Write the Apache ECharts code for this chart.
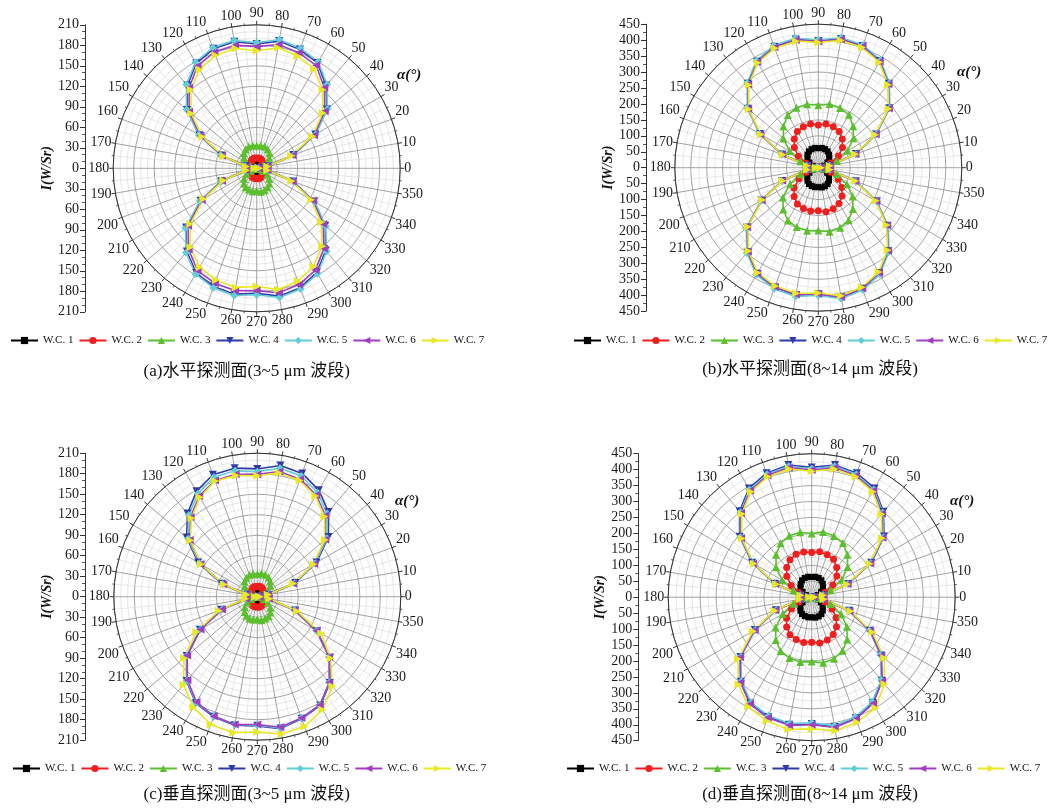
<!DOCTYPE html>
<html>
<head>
<meta charset="utf-8">
<script src="https://cdn.jsdelivr.net/npm/echarts@6/dist/echarts.min.js"></script>
<style>
  html, body { margin: 0; padding: 0; background: #ffffff; }
  #chart { width: 1055px; height: 808px; }
</style>
</head>
<body>
<div id="chart"></div>
<script>
// Angular positions of the measurements (degrees)
const ANGLES = [0,10,20,30,40,50,60,70,80,90,100,110,120,130,140,150,160,170,
                180,190,200,210,220,230,240,250,260,270,280,290,300,310,320,330,340,350];

const NAMES = ['W.C. 1','W.C. 2','W.C. 3','W.C. 4','W.C. 5','W.C. 6','W.C. 7'];

// Radial tick labels of the intensity axes
const TICKS_MW = [210,180,150,120,90,60,30,0,30,60,90,120,150,180,210];
const TICKS_LW = [450,400,350,300,250,200,150,100,50,0,50,100,150,200,250,300,350,400,450];

// (a) horizontal plane, 3~5 μm  — intensity I (W/Sr)
const A_WC1 = [0.1,0.6,2,3.5,4.7,5.6,6.3,6.5,6.7,6.4,6.6,6.6,6.3,5.6,4.7,3.4,2,0.6,0.1,0.6,2,3.4,4.8,5.6,6.3,6.5,6.6,6.5,6.7,6.6,6.2,5.6,4.6,3.4,2,0.6];
const A_WC2 = [0.3,1.4,4.6,8,10.8,12.8,14.4,15,15.3,14.7,15.2,15,14.3,12.8,10.7,7.8,4.5,1.4,0.3,1.4,4.5,7.7,10.9,12.9,14.3,14.9,15.1,14.8,15.4,15,14.2,12.7,10.6,7.8,4.6,1.4];
const A_WC3 = [1,3,10,18,24,29,32,34,34,33,34,34,32,29,24,18,10,3,1,3,10,17,24,29,32,33,34,33,35,34,32,29,24,18,10,3];
const A_WC4 = [3,17,57,99,134,158,178,185,189,182,188,186,177,158,133,97,55,17,3,17,55,95,135,159,177,184,187,183,190,186,176,157,131,97,57,17];
const A_WC5 = [3,17,58,100,135,160,180,187,191,184,190,188,179,160,134,98,56,17,3,17,56,96,136,161,179,186,189,185,192,188,178,159,132,98,58,17];
const A_WC6 = [3,16,56,97,130,154,174,180,184,178,183,181,173,154,129,95,54,16,3,16,54,93,131,155,173,179,182,179,185,181,172,153,127,95,56,16];
const A_WC7 = [3,16,54,94,126,150,168,175,179,172,178,176,167,150,125,92,52,16,3,16,52,90,127,151,167,174,177,173,180,176,166,149,123,92,54,16];

// (b) horizontal plane, 8~14 μm
const B_WC1 = [1,6,19,33,45,53,59,62,63,61,63,62,59,53,44,32,18,6,1,6,18,32,45,53,59,61,62,61,63,62,59,52,44,32,19,6];
const B_WC2 = [2,12,42,73,99,117,131,137,139,134,139,137,131,117,98,72,41,12,2,12,41,70,99,118,131,136,138,135,140,137,130,116,96,72,42,12];
const B_WC3 = [3,18,62,106,144,170,192,199,203,196,202,200,191,170,143,104,60,18,3,18,60,102,145,171,191,198,201,197,204,200,190,169,141,104,62,18];
const B_WC4 = [7,36,125,209,290,344,386,406,410,397,408,404,384,344,288,211,121,36,7,36,121,206,292,346,384,400,406,397,413,404,382,342,283,211,125,36];
const B_WC5 = [7,37,126,211,293,347,390,410,414,401,412,408,388,347,291,213,122,37,7,37,122,208,295,349,388,404,410,401,417,408,386,345,286,213,126,37];
const B_WC6 = [7,36,124,208,289,342,385,405,409,396,407,402,383,342,287,210,120,36,7,36,120,205,291,344,383,398,404,396,412,403,381,340,282,210,124,36];
const B_WC7 = [7,36,123,206,287,340,382,401,405,393,403,399,380,339,285,208,119,36,7,36,119,203,288,341,380,395,400,393,408,399,378,338,280,208,123,36];

// (c) vertical plane, 3~5 μm
const C_WC1 = [0.1,0.6,2,3.5,4.8,5.7,6.3,6.6,6.8,6.5,6.7,6.6,6.2,5.6,4.7,3.5,1.9,0.6,0.1,0.6,2,3.4,4.7,5.6,6.3,6.6,6.7,6.6,6.8,6.7,6.4,5.8,4.9,3.5,2.1,0.6];
const C_WC2 = [0.3,1.4,4.7,8.1,11,13,14.5,15.2,15.5,14.9,15.3,15.1,14.4,12.9,10.9,8,4.5,1.4,0.3,1.4,4.5,7.8,11,13,14.5,15,15.3,14.9,15.5,15.1,14.3,12.8,10.7,7.9,4.7,1.4];
const C_WC3 = [1,3,10,18,25,29,33,34,35,33,34,34,32,29,24,18,10,3,1,3,10,17,24,29,32,34,34,33,35,34,33,30,25,18,11,3];
const C_WC4 = [3,17,59,100,136,162,180,192,195,187,191,190,178,159,135,100,55,17,3,17,56,97,135,161,180,187,191,189,196,190,184,165,139,101,59,17];
const C_WC5 = [3,17,58,98,133,159,176,188,191,183,187,186,174,156,132,98,54,17,3,17,55,96,134,160,179,186,190,188,195,189,183,164,138,100,58,17];
const C_WC6 = [3,16,56,96,130,155,172,183,186,179,182,181,170,152,129,96,53,16,3,17,55,96,134,159,178,186,190,187,194,189,183,164,137,100,58,17];
const C_WC7 = [3,16,56,95,129,153,170,181,184,177,180,180,168,150,128,95,52,16,3,18,60,103,140,168,187,199,202,198,204,202,191,171,140,108,62,18];

// (d) vertical plane, 8~14 μm
const D_WC1 = [1,6,20,34,46,54,61,64,65,63,65,64,61,54,46,33,19,6,1,6,19,33,46,55,61,63,64,63,65,64,61,54,45,33,20,6];
const D_WC2 = [2,13,44,76,103,122,137,142,145,140,144,143,136,122,102,74,43,13,2,13,43,73,103,122,136,141,144,141,146,143,135,121,100,74,44,13];
const D_WC3 = [3,19,63,109,147,174,196,204,208,200,207,205,195,174,146,107,61,19,3,19,61,105,148,175,195,203,206,202,209,205,194,173,144,107,63,19];
const D_WC4 = [7,37,122,216,296,350,394,414,421,407,421,414,394,352,295,216,123,37,6,37,120,206,292,346,385,400,406,398,413,404,383,342,284,211,125,37];
const D_WC5 = [7,37,121,214,293,347,390,410,417,403,417,410,390,348,292,214,122,37,6,37,119,204,289,343,381,396,402,394,409,400,379,339,281,209,124,37];
const D_WC6 = [7,36,120,212,290,343,386,406,413,399,413,406,386,345,289,212,121,36,6,37,121,207,293,348,387,402,408,400,415,406,385,344,285,212,126,37];
const D_WC7 = [7,36,118,210,287,340,382,402,408,395,408,402,382,341,286,210,119,36,7,38,124,213,302,357,397,413,421,413,425,417,401,355,297,220,129,38];

const CAPTIONS = ['(a)水平探测面(3~5 μm 波段)', '(b)水平探测面(8~14 μm 波段)',
                  '(c)垂直探测面(3~5 μm 波段)', '(d)垂直探测面(8~14 μm 波段)'];

// ---- styling ----
const SERIF = "'Liberation Serif', 'Times New Roman', serif";
const CAP_FONT = "'Liberation Serif', 'Noto Sans CJK SC', serif";
const COLORS = ['#000000', '#f01e1e', '#5cbf2e', '#2f3aa8', '#62cdd6', '#a03ec2', '#e8e824'];
const SYMBOLS = ['rect', 'circle', 'triangle',
                 'path://M0,0L10,0L5,10Z', 'diamond',
                 'path://M10,0L0,5L10,10Z', 'path://M0,0L10,5L0,10Z'];
const SYM_SIZE = [6, 7, 8, 8, 8, 8, 8];
const R = 143.5;

const PANELS = [
  { cx: 256.7, cy: 168.3, axisX: 85,    max: 210, step: 30, minor: 3, ticks: TICKS_MW, nameGap: 31,
    series: [A_WC1, A_WC2, A_WC3, A_WC4, A_WC5, A_WC6, A_WC7],
    alpha: [410, 76], legend: [10, 335], caption: [246.7, 371.5] },
  { cx: 818.3, cy: 167.7, axisX: 646,   max: 450, step: 50, minor: 2, ticks: TICKS_LW, nameGap: 27,
    series: [B_WC1, B_WC2, B_WC3, B_WC4, B_WC5, B_WC6, B_WC7],
    alpha: [970, 73], legend: [573, 335], caption: [810, 369.5] },
  { cx: 257.3, cy: 596.7, axisX: 85,    max: 210, step: 30, minor: 3, ticks: TICKS_MW, nameGap: 26,
    series: [C_WC1, C_WC2, C_WC3, C_WC4, C_WC5, C_WC6, C_WC7],
    alpha: [408, 502], legend: [12, 763], caption: [246.7, 795] },
  { cx: 811.7, cy: 597.2, axisX: 638.3, max: 450, step: 50, minor: 2, ticks: TICKS_LW, nameGap: 29,
    series: [D_WC1, D_WC2, D_WC3, D_WC4, D_WC5, D_WC6, D_WC7],
    alpha: [963, 502], legend: [566, 763], caption: [810, 795] }
];

function closedLoop(vals) {
  const pts = vals.map((r, i) => [r, ANGLES[i]]);
  pts.push([vals[0], 360]);
  return pts;
}

const option = {
  backgroundColor: '#ffffff',
  animation: false,
  polar: [], angleAxis: [], radiusAxis: [],
  grid: [], xAxis: [], yAxis: [],
  legend: [], series: [], graphic: []
};

PANELS.forEach((p, pi) => {
  option.polar.push({ center: [p.cx, p.cy], radius: R });

  option.angleAxis.push({
    polarIndex: pi, type: 'value', min: 0, max: 360, interval: 10,
    startAngle: 0, clockwise: false,
    axisLine: { show: true, lineStyle: { color: '#333333', width: 1 } },
    axisTick: { show: true, length: 4, lineStyle: { color: '#333333' } },
    minorTick: { show: true, splitNumber: 2, length: 2, lineStyle: { color: '#555555' } },
    axisLabel: { margin: 4, fontFamily: SERIF, fontSize: 14, color: '#1a1a1a',
                 formatter: v => (v >= 360 ? '' : String(v)) },
    splitLine: { show: true, lineStyle: { color: '#8c8c8c', width: 0.8 } },
    minorSplitLine: { show: true, lineStyle: { color: '#d6d6d6', width: 0.6 } }
  });

  option.radiusAxis.push({
    polarIndex: pi, type: 'value', min: 0, max: p.max, interval: p.step,
    axisLine: { show: false }, axisTick: { show: false }, axisLabel: { show: false },
    minorTick: { show: false, splitNumber: p.minor },
    splitLine: { show: true, lineStyle: { color: '#8c8c8c', width: 0.8 } },
    minorSplitLine: { show: true, lineStyle: { color: '#d6d6d6', width: 0.6 } }
  });

  // Vertical intensity scale alongside each polar plot
  option.grid.push({ left: p.axisX, top: p.cy - R, width: 1, height: 2 * R });
  option.xAxis.push({ gridIndex: pi, type: 'value', show: false, min: 0, max: 1 });
  option.yAxis.push({
    gridIndex: pi, type: 'value', min: -p.max, max: p.max, interval: p.step,
    position: 'left',
    axisLine: { show: true, lineStyle: { color: '#333333', width: 1 } },
    axisTick: { show: true, length: 5, lineStyle: { color: '#333333' } },
    minorTick: { show: true, splitNumber: p.minor, length: 3, lineStyle: { color: '#555555' } },
    splitLine: { show: false },
    axisLabel: {
      margin: 6, fontFamily: SERIF, fontSize: 14, color: '#1a1a1a',
      formatter: v => {
        const idx = Math.round((v + p.max) / p.step);
        return String(p.ticks[p.ticks.length - 1 - idx]);
      }
    },
    name: 'I(W/Sr)', nameLocation: 'middle', nameGap: p.nameGap,
    nameTextStyle: { fontFamily: SERIF, fontSize: 14, fontWeight: 'bold',
                     fontStyle: 'italic', color: '#111111' }
  });

  p.series.forEach((vals, k) => {
    option.series.push({
      type: 'line', name: NAMES[k], coordinateSystem: 'polar', polarIndex: pi,
      data: closedLoop(vals),
      symbol: SYMBOLS[k], symbolSize: SYM_SIZE[k],
      lineStyle: { color: COLORS[k], width: 1.6 },
      itemStyle: { color: COLORS[k] },
      emphasis: { disabled: true },
      silent: true
    });
  });

  option.legend.push({
    data: NAMES, left: p.legend[0], top: p.legend[1],
    itemWidth: 27, itemHeight: 9, itemGap: 5, orient: 'horizontal',
    selectedMode: false, padding: 0,
    textStyle: { fontFamily: SERIF, fontSize: 11, color: '#111111' }
  });

  option.graphic.push({
    type: 'text', left: p.alpha[0] - 13, top: p.alpha[1] - 8,
    style: { text: 'α(°)', font: "italic bold 15px 'Liberation Serif', serif", fill: '#111111' }
  });
  option.graphic.push({
    type: 'text', x: p.caption[0], y: p.caption[1],
    style: { text: CAPTIONS[pi], font: "17px " + CAP_FONT, fill: '#111111',
             textAlign: 'center', textVerticalAlign: 'middle' }
  });
});

const chart = echarts.init(document.getElementById('chart'), null, { renderer: 'canvas' });
chart.setOption(option);
</script>
</body>
</html>
